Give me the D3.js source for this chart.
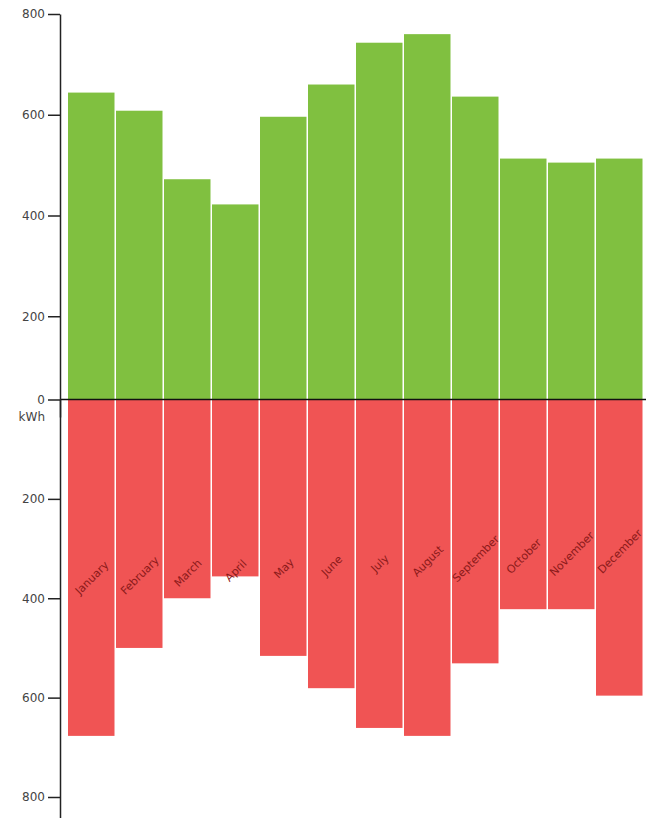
<!DOCTYPE html>
<html>
<head>
<meta charset="utf-8">
<script src="https://cdn.jsdelivr.net/npm/d3@7"></script>
<style>
  body { margin: 0; background: #fff; }
  text { font-family: "DejaVu Sans", sans-serif; }
  .axis text { font-size: 12px; fill: #444; }
  .axis path, .axis line { stroke: #222; stroke-width: 1.5px; }
  .monthLabel { font-size: 11px; fill: #8b1a1a; }
</style>
</head>
<body>
<div id="chart"></div>
<script>
// chart data (kWh per month)
var months = ["January", "February", "March", "April", "May", "June",
  "July", "August", "September", "October", "November", "December"];
var produced = [644, 608, 472, 422, 596, 660, 743, 760, 636, 513, 505, 513];
var consumed = [677, 500, 400, 356, 516, 581, 661, 677, 531, 422, 422, 596];
var topTicks = [200, 400, 600, 800];
var bottomTicks = [0, 200, 400, 600, 800];

var svgWidth = 646;
var svgHeight = 818;

var svg = d3.select("#chart")
  .append("svg")
  .attr("width", svgWidth)
  .attr("height", svgHeight);

// scales
var x = d3.scaleBand()
  .domain(months)
  .range([68, 644]);

var yTop = d3.scaleLinear()
  .domain([0, 800])
  .range([417, 14]);

var yBottom = d3.scaleLinear()
  .domain([0, 850])
  .range([399.5, 399.5 + 850 * (397.5 / 800)]);

var zeroY = yBottom(0);

// green bars going up
svg.append("g")
  .selectAll("rect")
  .data(produced)
  .enter()
  .append("rect")
  .attr("x", (d, i) => x(months[i]))
  .attr("width", x.bandwidth() - 1.5)
  .attr("y", d => yTop(d))
  .attr("height", d => zeroY - yTop(d))
  .attr("fill", "#80c040");

// red bars going down
svg.append("g")
  .selectAll("rect")
  .data(consumed)
  .enter()
  .append("rect")
  .attr("x", (d, i) => x(months[i]))
  .attr("width", x.bandwidth() - 1.5)
  .attr("y", zeroY)
  .attr("height", d => yBottom(d) - zeroY)
  .attr("fill", "#f05454");

// month labels, rotated
svg.append("g")
  .selectAll("text")
  .data(months)
  .enter()
  .append("text")
  .attr("class", "monthLabel")
  .attr("text-anchor", "middle")
  .attr("transform", (d, i) => {
    var cx = x(d) + x.bandwidth() / 2;
    var cy = 578 - i * 2.4;
    return `translate(${cx}, ${cy}) rotate(-45)`;
  })
  .attr("dy", "0.32em")
  .text(d => d);

// zero line
svg.append("line")
  .attr("x1", 60)
  .attr("x2", svgWidth)
  .attr("y1", zeroY)
  .attr("y2", zeroY)
  .attr("stroke", "#111")
  .attr("stroke-width", 1.5);

// axes
var topAxis = d3.axisLeft(yTop)
  .tickValues(topTicks)
  .tickSize(12)
  .tickPadding(3)
  .tickSizeOuter(0);

var bottomAxis = d3.axisLeft(yBottom)
  .tickValues(bottomTicks)
  .tickSize(12)
  .tickPadding(3)
  .tickSizeOuter(0);

svg.append("g")
  .attr("class", "axis")
  .attr("transform", "translate(60, 0)")
  .call(topAxis);

svg.append("g")
  .attr("class", "axis")
  .attr("transform", "translate(60, 0)")
  .call(bottomAxis);

// unit label
svg.append("text")
  .attr("class", "axis")
  .attr("x", 45)
  .attr("y", yTop(0))
  .attr("dy", "0.32em")
  .attr("text-anchor", "end")
  .style("font-size", "12px")
  .style("fill", "#444")
  .text("kWh");
</script>
</body>
</html>
